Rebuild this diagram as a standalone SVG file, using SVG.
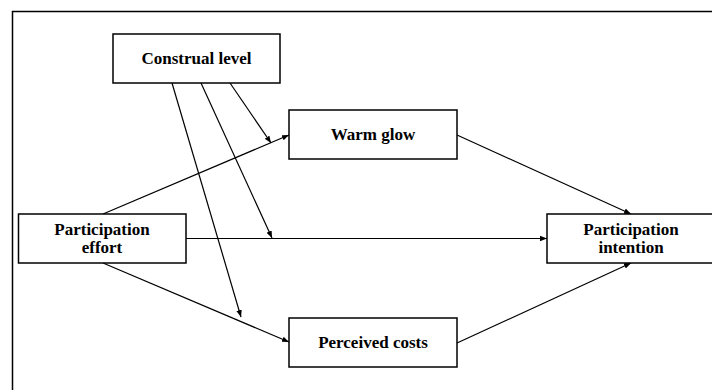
<svg xmlns="http://www.w3.org/2000/svg" width="712" height="390" viewBox="0 0 712 390">
<style>
.box{fill:#fff;stroke:#000;stroke-width:1.5}
.lbl{font-family:"Liberation Serif","Times New Roman",serif;font-weight:bold;font-size:17px;fill:#000;text-anchor:middle}
.con{stroke:#000;stroke-width:1.2;fill:none;marker-end:url(#ah)}
</style>
<defs>
<marker id="ah" viewBox="0 0 10 10" refX="10" refY="5" markerWidth="7" markerHeight="7" markerUnits="userSpaceOnUse" orient="auto">
<path d="M0,1 L10,5 L0,9 Z" fill="#000"/>
</marker>
</defs>
<rect x="0" y="0" width="712" height="390" fill="#fff"/>
<path d="M12.5,400 L12.5,11.5 L720,11.5" fill="none" stroke="#000" stroke-width="1.5"/>
<g id="connectors">
<line class="con" x1="103" y1="214" x2="289" y2="135"/>
<line class="con" x1="103" y1="263" x2="289" y2="342"/>
<line class="con" x1="186" y1="238.5" x2="547" y2="238.5"/>
<line class="con" x1="457" y1="135" x2="631" y2="214"/>
<line class="con" x1="457" y1="343" x2="631" y2="263"/>
<line class="con" x1="172" y1="83" x2="241" y2="317"/>
<line class="con" x1="201" y1="83" x2="272" y2="238"/>
<line class="con" x1="230" y1="83" x2="271" y2="143"/>
</g>
<g id="construal">
<rect class="box" x="113" y="34" width="167" height="49"/>
<text class="lbl" x="196.5" y="64">Construal level</text>
</g>
<g id="warmglow">
<rect class="box" x="289" y="110" width="168" height="49"/>
<text class="lbl" x="373" y="140">Warm glow</text>
</g>
<g id="effort">
<rect class="box" x="18.5" y="214" width="167.5" height="49"/>
<text class="lbl" x="102" y="235">Participation</text>
<text class="lbl" x="102" y="253">effort</text>
</g>
<g id="intention">
<rect class="box" x="547" y="214" width="168" height="49"/>
<text class="lbl" x="631" y="235">Participation</text>
<text class="lbl" x="631" y="253">intention</text>
</g>
<g id="costs">
<rect class="box" x="289" y="318" width="168" height="49"/>
<text class="lbl" x="373" y="348">Perceived costs</text>
</g>
</svg>
